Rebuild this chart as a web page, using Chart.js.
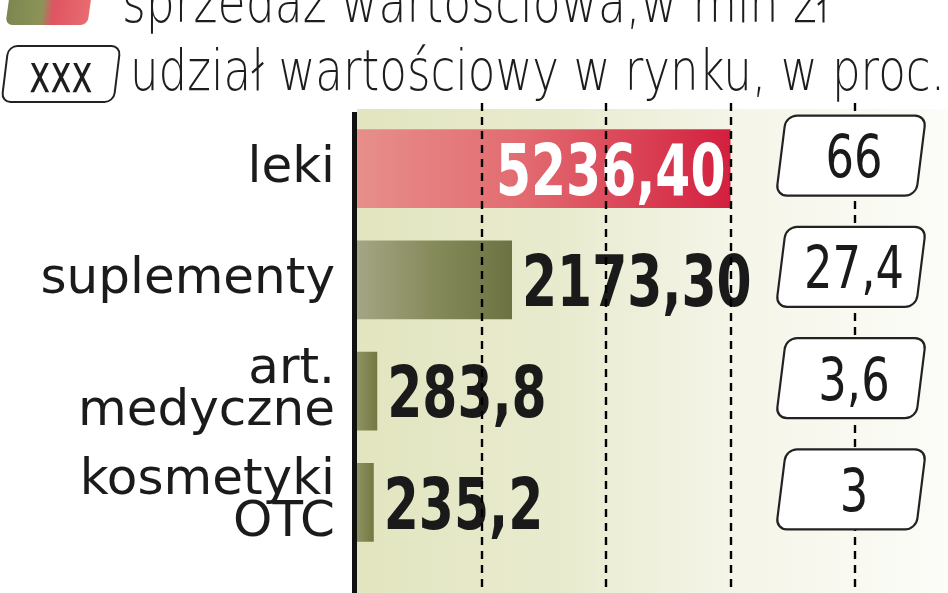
<!DOCTYPE html>
<html>
<head>
<meta charset="utf-8">
<script src="https://cdn.jsdelivr.net/npm/chart.js@4/dist/chart.umd.min.js"></script>
<style>
    body { margin: 0; background: #ffffff; width: 948px; height: 593px; overflow: hidden; position: relative; }
    #chart { position: absolute; left: 0; top: 0; }
    .head { position: absolute; font-family: 'DejaVu Sans', sans-serif; font-weight: 200; font-size: 57px; line-height: 57px; color: #1d1d1d; white-space: nowrap; transform-origin: 0 0; }
    #swatch { position: absolute; left: 8px; top: -12px; width: 82px; height: 37px; border-radius: 7px; transform: skewX(-8deg);
        background: linear-gradient(90deg, #7c8750 0%, #8d9358 42%, #df5462 56%, #e86c70 100%); }
    #xbox { position: absolute; left: 4px; top: 45px; width: 110px; height: 54px; border: 2px solid #222; border-radius: 10px; transform: skewX(-7deg); background: #fff; }
    #xbox span { position: absolute; left: 0; top: 0; width: 110px; text-align: center; font-family: 'DejaVu Sans', sans-serif; font-size: 54px; line-height: 54px; color: #1d1d1d; transform: skewX(7deg) scaleX(0.66); }
</style>
</head>
<body>
<canvas id="chart" width="948" height="593"></canvas>
<div id="swatch"></div>
<div class="head" id="head1" style="left:122px; top:-26px;">sprzedaż wartościowa,w mln zł</div>
<div id="xbox"><span>xxx</span></div>
<div class="head" id="head2" style="left:130px; top:42px;">udział wartościowy w rynku, w proc.</div>
<script>
var categories = [['leki'], ['suplementy'], ['art.', 'medyczne'], ['kosmetyki', 'OTC']];
var sales = [5236.40, 2173.30, 283.8, 235.2];
var salesDecimals = [2, 2, 1, 1];
var shares = [66, 27.4, 3.6, 3];
var gridStep = 1745.5;
var gridLines = [1, 2, 3, 4];

function fitHeading(id, targetWidth) {
    var el = document.getElementById(id);
    var w = el.getBoundingClientRect().width;
    el.style.transform = 'scaleX(' + (targetWidth / w) + ')';
}
fitHeading('head1', 708);
fitHeading('head2', 815);

function barColor(context) {
    var chart = context.chart;
    var area = chart.chartArea;
    if (!area) {
        return '#7b7f48';
    }
    var i = context.dataIndex;
    var x1 = chart.scales.x.getPixelForValue(sales[i]);
    var g = chart.ctx.createLinearGradient(area.left, 0, Math.max(x1, area.left + 1), 0);
    if (i == 0) {
        g.addColorStop(0, '#e78f8a');
        g.addColorStop(0.45, '#e26a70');
        g.addColorStop(1, '#d3203f');
    } else if (i == 1) {
        g.addColorStop(0, '#a4a585');
        g.addColorStop(0.5, '#858a5a');
        g.addColorStop(1, '#6d7243');
    } else {
        g.addColorStop(0, '#8f9263');
        g.addColorStop(1, '#737841');
    }
    return g;
}

function condensedText(ctx, text, x, y, align, factor) {
    ctx.save();
    ctx.translate(x, y);
    ctx.scale(factor, 1);
    ctx.textAlign = align;
    ctx.textBaseline = 'alphabetic';
    ctx.fillText(text, 0, 0);
    ctx.restore();
}

function skewedBox(ctx, cx, cy, w, h, r) {
    ctx.save();
    ctx.translate(cx, cy);
    ctx.transform(1, 0, -0.125, 1, 0, 0);
    ctx.beginPath();
    ctx.roundRect(-w / 2, -h / 2, w, h, r);
    ctx.fillStyle = '#ffffff';
    ctx.fill();
    ctx.lineWidth = 2.2;
    ctx.strokeStyle = '#222222';
    ctx.stroke();
    ctx.restore();
}

var backdrop = {
    id: 'backdrop',
    beforeDatasetsDraw: function (chart) {
        var ctx = chart.ctx;
        var area = chart.chartArea;
        var g = ctx.createLinearGradient(area.left, 0, chart.width, 0);
        g.addColorStop(0, '#e2e5bf');
        g.addColorStop(0.35, '#e9ebcf');
        g.addColorStop(0.65, '#f5f5e9');
        g.addColorStop(1, '#fcfcf8');
        ctx.save();
        ctx.fillStyle = g;
        ctx.fillRect(area.left, area.top - 4, chart.width - area.left, chart.height - area.top + 4);
        ctx.restore();
    },
    afterDatasetsDraw: function (chart) {
        var ctx = chart.ctx;
        var area = chart.chartArea;
        var xs = chart.scales.x;
        var ys = chart.scales.y;
        var meta = chart.getDatasetMeta(0);

        // value labels
        ctx.save();
        ctx.font = 'bold 72px "DejaVu Sans"';
        meta.data.forEach(function (bar, i) {
            var text = sales[i].toFixed(salesDecimals[i]).replace('.', ',');
            var w = ctx.measureText(text).width * 0.7;
            var base = bar.y + 0.73 * 72 / 2;
            if (w + 14 < bar.x - area.left) {
                ctx.fillStyle = '#ffffff';
                condensedText(ctx, text, bar.x - 5, base, 'right', 0.7);
            } else {
                ctx.fillStyle = '#1a1a1a';
                condensedText(ctx, text, bar.x + 10, base, 'left', 0.7);
            }
        });
        ctx.restore();

        // dashed grid
        ctx.save();
        ctx.setLineDash([8, 6]);
        ctx.lineWidth = 2.4;
        ctx.strokeStyle = '#000000';
        for (const n of gridLines) {
            var px = Math.round(xs.getPixelForValue(n * gridStep));
            ctx.beginPath();
            ctx.moveTo(px, area.top - 10);
            ctx.lineTo(px, chart.height);
            ctx.stroke();
        }
        ctx.restore();

        // axis
        ctx.save();
        ctx.fillStyle = '#111111';
        ctx.fillRect(area.left - 5, area.top - 1, 5, chart.height - area.top + 1);
        ctx.restore();

        // share boxes
        var boxX = xs.getPixelForValue(xs.max) - 4;
        shares.forEach(function (share, i) {
            var cy = ys.getPixelForValue(i) - 13;
            skewedBox(ctx, boxX, cy, 140, 80, 11);
            ctx.save();
            ctx.font = '59px "DejaVu Sans"';
            ctx.fillStyle = '#1a1a1a';
            condensedText(ctx, String(share).replace('.', ','), boxX + 3, cy + 0.73 * 59 / 2, 'center', 0.76);
            ctx.restore();
        });
    }
};

var chartData = {
    type: 'bar',
    data: {
        labels: categories,
        datasets: [{
            data: sales,
            backgroundColor: barColor,
            borderWidth: 0,
            barPercentage: 0.71,
            categoryPercentage: 1
        }]
    },
    options: {
        indexAxis: 'y',
        responsive: false,
        animation: false,
        layout: {
            padding: { top: 113, right: 93, bottom: 18, left: 0 }
        },
        plugins: {
            legend: { display: false },
            tooltip: { enabled: false }
        },
        scales: {
            x: {
                display: false,
                min: 0,
                max: gridStep * gridLines.length
            },
            y: {
                grid: { display: false },
                border: { display: false },
                ticks: {
                    color: '#1b1b1b',
                    padding: 14,
                    font: { family: 'DejaVu Sans', size: 50, lineHeight: 0.84 }
                },
                afterFit: function (scale) {
                    scale.width = 357;
                }
            }
        }
    },
    plugins: [backdrop]
};

var mychart = new Chart(document.getElementById('chart').getContext('2d'), chartData);
</script>
</body>
</html>
